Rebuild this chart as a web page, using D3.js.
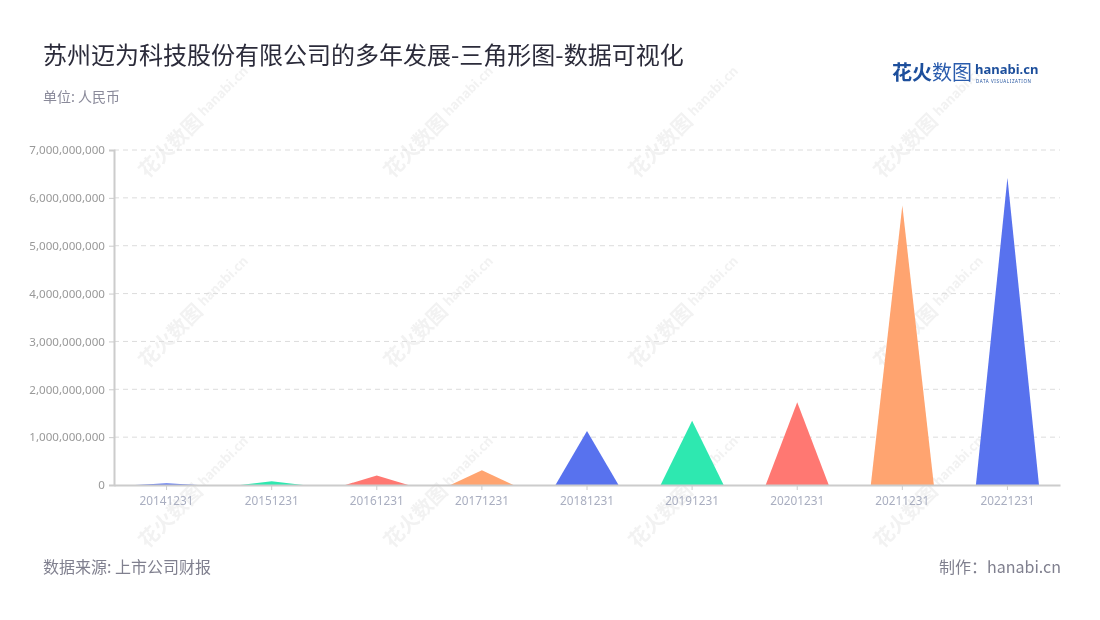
<!DOCTYPE html>
<html><head><meta charset="utf-8">
<script src="https://cdn.jsdelivr.net/npm/d3@7"></script>
<style>
body{margin:0;background:#fff;}
svg{display:block;font-family:"Noto Sans CJK SC","Noto Sans",sans-serif;}
</style></head>
<body><svg id="c" width="1100" height="620"></svg>
<script>
const categories = ["20141231","20151231","20161231","20171231","20181231","20191231","20201231","20211231","20221231"];
const values = [37000000, 77000000, 200000000, 310000000, 1130000000, 1340000000, 1730000000, 5840000000, 6420000000];
const colors = ["#5872ee","#2ee8b0","#ff7872","#ffa470"];
const yTicks = [0,1000000000,2000000000,3000000000,4000000000,5000000000,6000000000,7000000000];
const title = "苏州迈为科技股份有限公司的多年发展-三角形图-数据可视化";
const subtitle = "单位: 人民币";
const source = "数据来源: 上市公司财报";
const maker = "制作：hanabi.cn";

const svg = d3.select("#c");
const m = {l:114, r:1060, t:150, b:485};

// watermarks
const wm = svg.append("g").attr("opacity",0.45);
const wmX = [170,415,660,905], wmY = [145,335,515];
wmX.forEach(x=>wmY.forEach(y=>{
  const g = wm.append("g").attr("transform",`translate(${x},${y}) rotate(-45)`);
  g.append("text").attr("x",-40).attr("y",8).attr("font-size",20).attr("font-weight","bold").attr("fill","#e2e2e2").text("花火数图");
  g.append("text").attr("x",44).attr("y",4).attr("font-size",13).attr("font-weight","bold").attr("fill","#e2e2e2").text("hanabi.cn");
}));

const x = d3.scaleBand().domain(categories).range([m.l,m.r]);
const y = d3.scaleLinear().domain([0,7000000000]).range([m.b,m.t]);

// grid
svg.append("g").selectAll("line").data(yTicks.slice(1)).join("line")
  .attr("x1",m.l).attr("x2",m.r).attr("y1",d=>y(d)).attr("y2",d=>y(d))
  .attr("stroke","#dcdcdc").attr("stroke-dasharray","5,4");

// triangles
const w = x.bandwidth()*0.6;
svg.append("g").selectAll("path").data(values).join("path")
  .attr("d",(d,i)=>{
    const c = x(categories[i]) + x.bandwidth()/2;
    return `M${c-w/2},${y(0)} L${c},${y(d)} L${c+w/2},${y(0)} Z`;
  })
  .attr("fill",(d,i)=>colors[i%4]);

// y axis
const ya = svg.append("g").attr("transform",`translate(${m.l},0)`)
  .call(d3.axisLeft(y).tickValues(yTicks).tickSize(5).tickPadding(4).tickFormat(d3.format(",")));
ya.select(".domain").attr("stroke","#ccc").attr("stroke-width",2);
ya.selectAll(".tick line").attr("stroke","#ccc");
ya.selectAll("text").attr("fill","#999").attr("font-size",11.6).attr("font-family","'Noto Sans',sans-serif");

// x axis
const xa = svg.append("g").attr("transform",`translate(0,${m.b})`)
  .call(d3.axisBottom(x).tickSize(5).tickPadding(7).tickSizeOuter(0));
xa.select(".domain").attr("stroke","#ccc").attr("stroke-width",2);
xa.selectAll(".tick line").attr("stroke","#ccc");
xa.selectAll("text").attr("fill","#a9aec0").attr("font-size",11.8).attr("font-family","'Noto Sans',sans-serif");

// titles
svg.append("text").attr("x",43).attr("y",64).attr("font-size",24).attr("fill","#2b2b3a").text(title);
svg.append("text").attr("x",43).attr("y",102).attr("font-size",14).attr("fill","#8a8a9a").text(subtitle);
svg.append("text").attr("x",43).attr("y",573).attr("font-size",16).attr("fill","#80808f").text(source);
svg.append("text").attr("x",1061).attr("y",573).attr("text-anchor","end").attr("font-size",16).attr("fill","#80808f").text(maker);

// logo
const lg = svg.append("g");
lg.append("text").attr("x",892).attr("y",80).attr("font-size",20).attr("font-weight","bold").attr("fill","#1d4f9c").text("花火");
lg.append("text").attr("x",932).attr("y",80).attr("font-size",20).attr("fill","#2a5cad").text("数图");
lg.append("text").attr("x",975).attr("y",74).attr("font-size",13).attr("font-weight","bold").attr("fill","#1d4f9c").attr("font-family","'Noto Sans',sans-serif").text("hanabi.cn");
lg.append("text").attr("x",976).attr("y",83).attr("font-size",4.5).attr("fill","#1d4f9c").attr("font-family","'Noto Sans',sans-serif").attr("letter-spacing",0.6).text("DATA VISUALIZATION");
</script></body></html>
